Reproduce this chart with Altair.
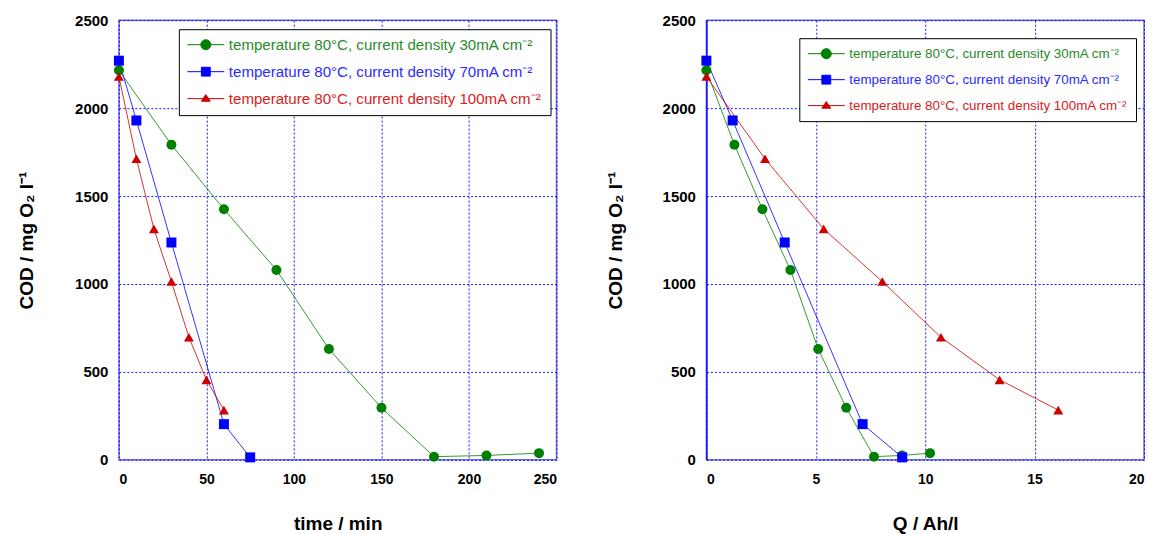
import altair as alt
import pandas as pd

series_labels = [
    "temperature 80°C, current density 30mA cm⁻²",
    "temperature 80°C, current density 70mA cm⁻²",
    "temperature 80°C, current density 100mA cm⁻²",
]
series_colors = ["#008000", "#0000ff", "#cc0000"]
text_colors = ["#2a8a2a", "#2b2bff", "#d91c1c"]
series_shapes = ["circle", "square", "triangle-up"]

# 30 mA cm-2
time_30 = [0, 30, 60, 90, 120, 150, 180, 210, 240]
q_30 = [0, 1.28, 2.56, 3.84, 5.11, 6.39, 7.66, 8.94, 10.22]
cod_30 = [2215, 1792, 1425, 1080, 630, 296, 18, 25, 38]
# 70 mA cm-2
time_70 = [0, 10, 30, 60, 75]
q_70 = [0, 1.2, 3.58, 7.14, 8.95]
cod_70 = [2270, 1930, 1236, 203, 14]
# 100 mA cm-2
time_100 = [0, 10, 20, 30, 40, 50, 60]
q_100 = [0, 2.68, 5.36, 8.04, 10.72, 13.4, 16.08]
cod_100 = [2180, 1712, 1313, 1014, 697, 455, 283]

time_ticks = [0, 50, 100, 150, 200, 250]
q_ticks = [0, 5, 10, 15, 20]
cod_ticks = [0, 500, 1000, 1500, 2000, 2500]

rows = []
for lab, ts, qs, cs in zip(series_labels, [time_30, time_70, time_100],
                           [q_30, q_70, q_100], [cod_30, cod_70, cod_100]):
    for t, q, c in zip(ts, qs, cs):
        rows.append({"series": lab, "marker": lab, "time": t, "q": q, "cod": c})
df = pd.DataFrame(rows)

# legend symbols: a line with the marker in its middle
p_circle = "M-1,0H1M-0.27,0A0.27,0.27 0 1,0 0.27,0A0.27,0.27 0 1,0 -0.27,0Z"
p_square = "M-1,0H1M-0.24,-0.24H0.24V0.24H-0.24Z"
p_tri = "M-1,0H1M0,-0.22L0.24,0.14L-0.24,0.14Z"


def pick(a, b, c):
    return (f"indexof(datum.value,'30mA')>=0 ? '{a}' : "
            f"(indexof(datum.value,'70mA')>=0 ? '{b}' : '{c}')")


def panel(xfield, xtitle, xmax, xticks, lx, ly, lfont, ytitle_pad, ydomain):
    legend = alt.Legend(
        title=None, orient="none", legendX=lx, legendY=ly,
        fillColor="white", strokeColor="black",
        padding=8, rowPadding=11, cornerRadius=0, clipHeight=15,
        labelFont="Liberation Sans", labelFontSize=lfont, labelLimit=500,
        labelOffset=4,
        labelColor=alt.ExprRef(pick(*text_colors)),
        symbolType=alt.ExprRef(pick(p_circle, p_square, p_tri)),
        symbolSize=1369, symbolStrokeWidth=1,
        symbolStrokeColor=alt.ExprRef(pick(*series_colors)),
        symbolFillColor=alt.ExprRef(pick(*series_colors)),
        symbolOpacity=1,
    )
    x = alt.X(f"{xfield}:Q", title=xtitle,
              scale=alt.Scale(domain=[0, xmax], nice=False, zero=True),
              axis=alt.Axis(values=xticks, format="d", labelPadding=13, titlePadding=28,
                            labelFontSize=14))
    yaxis = dict(values=cod_ticks, format="d", labelPadding=11, titlePadding=ytitle_pad,
                 labelFontSize=15)
    if ydomain:
        yaxis.update(domain=True, domainColor="#1414ff", domainWidth=1.5)
    y = alt.Y("cod:Q", title="COD / mg O₂ l⁻¹",
              scale=alt.Scale(domain=[0, 2500], nice=False),
              axis=alt.Axis(**yaxis))
    base = alt.Chart(df)
    lines = base.mark_line(strokeWidth=1, opacity=0.8).encode(
        x=x, y=y, detail="series:N", order=f"{xfield}:Q",
        color=alt.Color("series:N",
                        scale=alt.Scale(domain=series_labels, range=series_colors),
                        legend=legend))
    pts = base.mark_point(filled=True, size=100, opacity=1).encode(
        x=x, y=y,
        color=alt.Color("marker:N",
                        scale=alt.Scale(domain=series_labels, range=series_colors),
                        legend=None),
        shape=alt.Shape("marker:N", scale=alt.Scale(domain=series_labels, range=series_shapes),
                        legend=None))
    return alt.layer(lines, pts).resolve_scale(color="independent").properties(
        width=438, height=440)


left = panel("time", "time / min", 250, time_ticks, 60, 9, 15.1, 38, False)
right = panel("q", "Q / Ah/l", 20, q_ticks, 93, 18, 13.4, 37, True)

chart = alt.hconcat(left, right, spacing=47).resolve_scale(
    color="independent", shape="independent").resolve_legend(color="independent").properties(
    padding={"left": 8, "top": 4, "right": 5, "bottom": 0}, background="white"
).configure_view(
    stroke="#6a6ae8", strokeWidth=1.5
).configure_axis(
    grid=True, gridColor="#0000ff", gridDash=[2, 2], gridWidth=1, gridOpacity=0.9,
    domain=False, ticks=False,
    labelFont="Liberation Sans", labelFontWeight="bold", labelColor="black",
    titleFont="Liberation Sans", titleFontWeight="bold", titleFontSize=19, titleColor="black",
)

chart.save("out.html", embed_options={"renderer": "svg", "actions": False})
